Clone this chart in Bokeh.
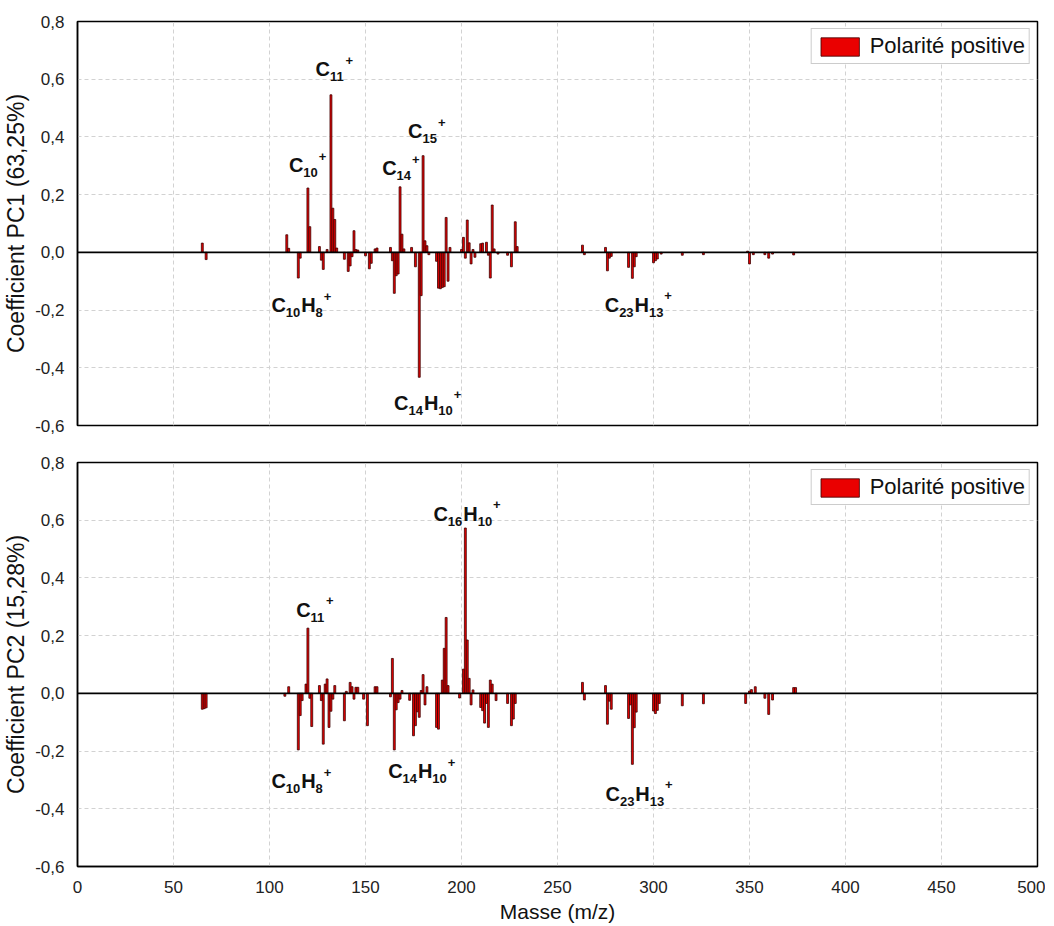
from bokeh.plotting import figure
from bokeh.layouts import column
from bokeh.models import (Range1d, FixedTicker, CustomJSTickFormatter, Span, Label,
                          ColumnDataSource, Legend)
from bokeh.embed import file_html
from bokeh.resources import INLINE

# ---------------- data ----------------
pc1_mass = [65, 67, 109, 110, 115, 116, 120, 121, 126, 127, 128, 130, 132, 133, 134, 135,
            139, 141, 142, 143, 144, 145, 146, 150, 152, 153, 155, 156, 163, 164, 165, 166,
            167, 168, 169, 170, 174, 176, 178, 179, 180, 181, 182, 183, 187, 188, 189, 190,
            191, 192, 193, 194, 200, 201, 202, 203, 204, 205, 206, 207, 210, 211, 213, 214,
            215, 216, 217, 219, 224, 226, 228, 229, 263, 264, 275, 276, 277, 278, 287, 289,
            290, 291, 300, 301, 302, 304, 315, 326, 349, 350, 352, 358, 360, 362, 373]
pc1_coef = [0.032, -0.025, 0.061, 0.014, -0.089, -0.020, 0.223, 0.089, 0.020, -0.027, -0.059,
            0.010, 0.546, 0.153, 0.114, 0.015, -0.024, -0.066, -0.047, -0.015, 0.075, 0.010,
            0.008, -0.012, -0.057, -0.038, 0.012, 0.015, 0.017, -0.029, -0.142, -0.081, -0.075,
            0.227, 0.063, 0.012, 0.017, -0.050, -0.433, -0.150, 0.335, 0.040, 0.023, -0.008,
            -0.031, -0.124, -0.126, -0.122, -0.119, 0.121, -0.100, 0.017, 0.010, 0.052, -0.020,
            0.112, 0.033, -0.040, 0.010, -0.017, 0.030, 0.032, 0.035, -0.010, -0.089, 0.164,
            0.012, -0.006, -0.010, -0.050, 0.106, 0.020, 0.025, -0.008, 0.017, -0.064, -0.020,
            -0.014, -0.052, -0.090, -0.050, -0.015, -0.036, -0.029, -0.023, -0.006, -0.010,
            -0.008, 0.004, -0.040, -0.008, -0.008, -0.020, -0.006, -0.009]

pc2_mass = [65, 66, 67, 108, 110, 115, 116, 117, 119, 120, 121, 122, 126, 127, 128, 129, 130,
            131, 132, 133, 134, 139, 140, 142, 143, 144, 145, 146, 149, 151, 155, 156, 163,
            164, 165, 166, 167, 168, 169, 173, 175, 176, 177, 178, 179, 180, 181, 182, 187,
            188, 190, 191, 192, 193, 199, 201, 202, 203, 204, 205, 206, 210, 211, 212, 213,
            214, 215, 216, 218, 224, 226, 227, 228, 263, 264, 275, 276, 277, 278, 287, 288,
            289, 290, 291, 300, 301, 302, 303, 315, 326, 348, 350, 351, 353, 358, 360, 362,
            373, 374]
pc2_coef = [-0.055, -0.053, -0.050, -0.010, 0.023, -0.196, -0.077, -0.025, 0.032, 0.226,
            -0.017, -0.115, 0.027, -0.025, -0.176, 0.032, 0.050, -0.118, -0.062, -0.020, 0.027,
            -0.095, 0.007, 0.038, 0.023, -0.020, 0.021, 0.021, -0.020, -0.112, 0.023, 0.023,
            -0.012, 0.121, -0.196, -0.057, -0.032, -0.020, 0.010, -0.024, -0.147, -0.112,
            -0.064, -0.083, 0.010, 0.065, -0.040, 0.023, -0.118, -0.124, 0.046, 0.156, 0.263,
            0.027, -0.016, 0.084, 0.573, 0.185, 0.052, -0.040, 0.012, -0.049, -0.060, -0.103,
            -0.035, -0.118, 0.046, 0.032, -0.025, -0.035, -0.112, -0.089, -0.035, 0.038, -0.023,
            0.027, -0.107, -0.027, -0.055, -0.087, -0.040, -0.246, -0.119, -0.065, -0.061,
            -0.070, -0.059, -0.035, -0.043, -0.036, -0.035, 0.008, 0.013, 0.023, -0.017, -0.073,
            -0.023, 0.020, 0.020]

x_ticks = [0, 50, 100, 150, 200, 250, 300, 350, 400, 450, 500]
y_ticks = [-0.6, -0.4, -0.2, 0.0, 0.2, 0.4, 0.6, 0.8]
series_name = "Polarité positive"
y_titles = ["Coefficient PC1 (63,25%)", "Coefficient PC2 (15,28%)"]
x_title = "Masse (m/z)"

# annotations: (x, y, [(text, kind), ...])
pc1_labels = [
    (124.0, 0.634, [("C", "n"), ("11", "sub"), ("+", "sup")]),
    (110.1, 0.301, [("C", "n"), ("10", "sub"), ("+", "sup")]),
    (101.0, -0.184, [("C", "n"), ("10", "sub"), ("H", "n"), ("8", "sub"), ("+", "sup")]),
    (158.7, 0.292, [("C", "n"), ("14", "sub"), ("+", "sup")]),
    (172.2, 0.419, [("C", "n"), ("15", "sub"), ("+", "sup")]),
    (164.9, -0.523, [("C", "n"), ("14", "sub"), ("H", "n"), ("10", "sub"), ("+", "sup")]),
    (274.6, -0.181, [("C", "n"), ("23", "sub"), ("H", "n"), ("13", "sub"), ("+", "sup")]),
]
pc2_labels = [
    (113.9, 0.290, [("C", "n"), ("11", "sub"), ("+", "sup")]),
    (101.0, -0.304, [("C", "n"), ("10", "sub"), ("H", "n"), ("8", "sub"), ("+", "sup")]),
    (185.4, 0.622, [("C", "n"), ("16", "sub"), ("H", "n"), ("10", "sub"), ("+", "sup")]),
    (161.8, -0.270, [("C", "n"), ("14", "sub"), ("H", "n"), ("10", "sub"), ("+", "sup")]),
    (275.0, -0.348, [("C", "n"), ("23", "sub"), ("H", "n"), ("13", "sub"), ("+", "sup")]),
]

FONT = "Liberation Sans"
comma_fmt = CustomJSTickFormatter(code="return tick.toFixed(1).replace('.', ',');")


def add_formula(p, x, y, parts):
    off = 0.0
    for txt, kind in parts:
        if kind == "n":
            size, yo, adv = 20, 0, 14.4 * len(txt)
        elif kind == "sub":
            size, yo, adv = 13, -7.5, 7.2 * len(txt) + 1.0
        else:
            size, yo, adv = 13, 9, 7.6
        p.add_layout(Label(x=x, y=y, x_offset=off, y_offset=yo, text=txt,
                           text_font=FONT, text_font_size=f"{size}px",
                           text_font_style="bold", text_color="#111111",
                           text_align="left", text_baseline="alphabetic"))
        off += adv


def make_panel(mass, coef, ytitle, labels, show_x, top_border, bottom_border):
    p = figure(frame_width=960, frame_height=404,
               x_range=Range1d(0, 500), y_range=Range1d(-0.6, 0.8),
               output_backend="svg", toolbar_location=None,
               min_border_left=70, min_border_right=8,
               min_border_top=top_border, min_border_bottom=bottom_border,
               background_fill_color="white", border_fill_color="white")
    src = ColumnDataSource(dict(m=mass, v=coef))
    r = p.vbar(x="m", top="v", bottom=0, width=1.0, source=src,
               fill_color="#ea0000", line_color="#3c0000", line_width=0.8)

    p.add_layout(Span(location=0, dimension="width", line_color="black", line_width=1.6))

    p.outline_line_color = "black"
    p.outline_line_width = 1.5

    for g in (p.xgrid[0], p.ygrid[0]):
        g.grid_line_color = "#d2d2d2"
        g.grid_line_dash = "4 3"
        g.grid_line_width = 1
    p.xgrid[0].ticker = FixedTicker(ticks=x_ticks)
    p.ygrid[0].ticker = FixedTicker(ticks=y_ticks)

    ya = p.yaxis[0]
    ya.ticker = FixedTicker(ticks=y_ticks)
    ya.formatter = comma_fmt
    ya.axis_label = ytitle
    ya.axis_label_text_font = FONT
    ya.axis_label_text_font_size = "23px"
    ya.axis_label_text_font_style = "normal"
    ya.axis_label_text_color = "#111111"
    ya.axis_label_standoff = 3
    ya.major_label_text_font = FONT
    ya.major_label_text_font_size = "17px"
    ya.major_label_text_color = "#222222"
    ya.major_label_standoff = 7
    ya.major_tick_line_color = None
    ya.minor_tick_line_color = None
    ya.axis_line_color = "black"
    ya.axis_line_width = 1.5

    xa = p.xaxis[0]
    if show_x:
        xa.ticker = FixedTicker(ticks=x_ticks)
        xa.axis_label = x_title
        xa.axis_label_text_font = FONT
        xa.axis_label_text_font_size = "21px"
        xa.axis_label_text_font_style = "normal"
        xa.axis_label_text_color = "#111111"
        xa.axis_label_standoff = 4
        xa.major_label_text_font = FONT
        xa.major_label_text_font_size = "17px"
        xa.major_label_text_color = "#222222"
        xa.major_label_standoff = 8
        xa.major_tick_line_color = None
        xa.minor_tick_line_color = None
        xa.axis_line_color = "black"
        xa.axis_line_width = 1.5
    else:
        xa.visible = False

    legend = Legend(items=[(series_name, [r])], location="top_right")
    legend.margin = 7
    legend.padding = 4
    legend.spacing = 0
    legend.glyph_width = 48
    legend.glyph_height = 23
    legend.label_standoff = 6
    legend.label_text_font = FONT
    legend.label_text_font_size = "22px"
    legend.label_text_color = "#111111"
    legend.border_line_color = "#9a9a9a"
    legend.border_line_width = 1.5
    legend.background_fill_color = "white"
    legend.background_fill_alpha = 1.0
    p.add_layout(legend, "center")

    for x, y, parts in labels:
        add_formula(p, x, y, parts)
    return p


p1 = make_panel(pc1_mass, pc1_coef, y_titles[0], pc1_labels, False, 21, 16)
p2 = make_panel(pc2_mass, pc2_coef, y_titles[1], pc2_labels, True, 21, 10)

layout = column(p1, p2, spacing=0)
open("out.html", "w").write(file_html(layout, INLINE))
